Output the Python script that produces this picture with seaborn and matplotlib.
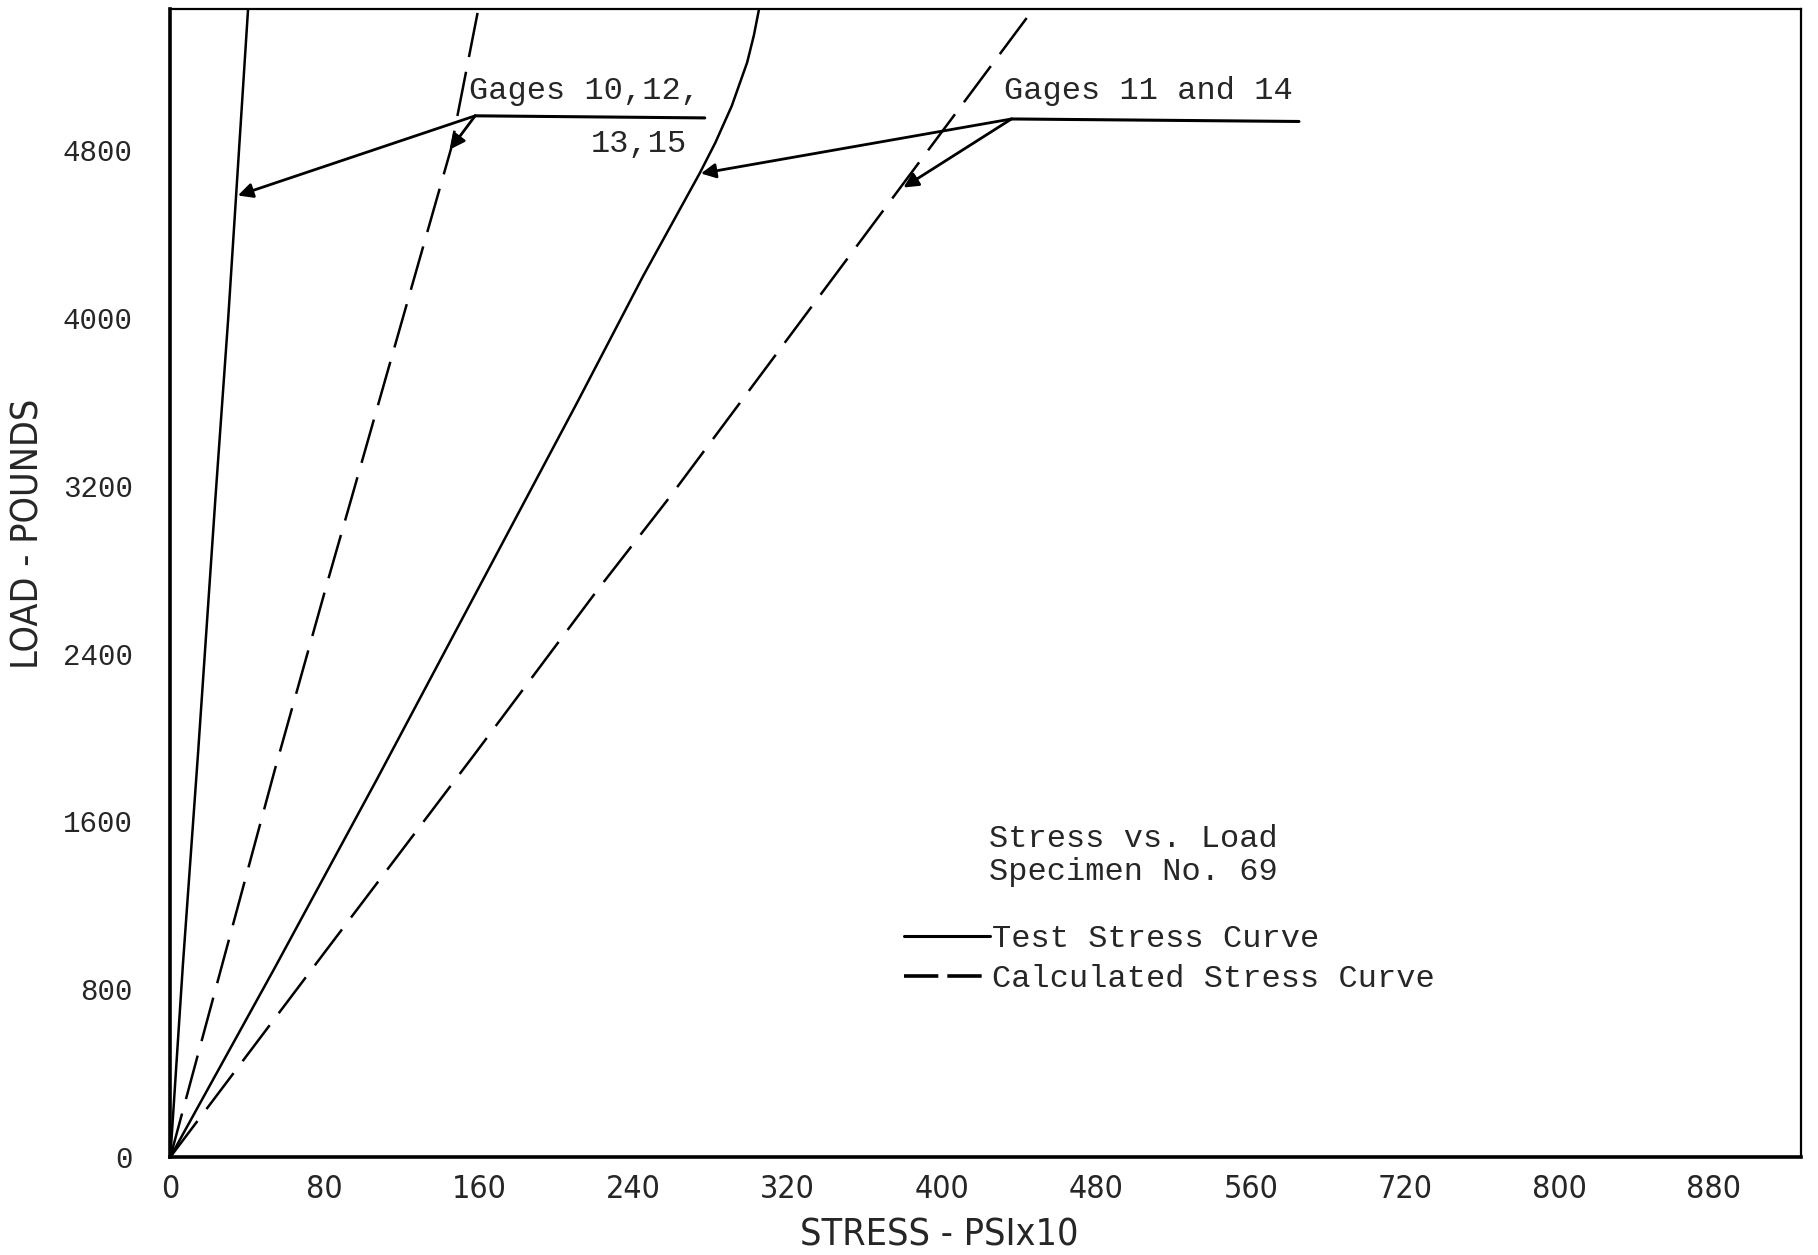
import numpy as np
import pandas as pd
import matplotlib
matplotlib.use("Agg")
import matplotlib.pyplot as plt
import seaborn as sns
from matplotlib.lines import Line2D

# curves (stress in PSI x10, load in pounds)
test_a_stress = [0, 6.5, 14.4, 23.4, 30, 34, 40.4]
test_a_load = [0, 916, 1931, 3147, 4000, 4573, 5491]
calc_a_stress = [0, 24.4, 54.2, 82, 94, 145.4, 160]
calc_a_load = [0, 833, 1848, 2760, 3145, 4805, 5491]
test_b_stress = [0, 54, 107, 159, 211, 245, 274.5, 282.5, 291, 299, 302.5, 305.5]
test_b_load = [0, 900, 1800, 2700, 3600, 4200, 4693, 4837, 5012, 5220, 5350, 5491]
calc_b_stress = [0, 79.9, 157.5, 221, 258.7, 447]
calc_b_load = [0, 975, 1918, 2699, 3145, 5470]

x_tick_pos = [0, 80, 160, 240, 320, 400, 480, 560, 640, 720, 800]
x_tick_labels = ['0', '80', '160', '240', '320', '400', '480', '560', '720', '800', '880']
y_ticks = [0, 800, 1600, 2400, 3200, 4000, 4800]

rows = []
for name, kind, xs, ys in [('a_test', 'Test Stress Curve', test_a_stress, test_a_load),
                           ('a_calc', 'Calculated Stress Curve', calc_a_stress, calc_a_load),
                           ('b_test', 'Test Stress Curve', test_b_stress, test_b_load),
                           ('b_calc', 'Calculated Stress Curve', calc_b_stress, calc_b_load)]:
    for x, y in zip(xs, ys):
        rows.append({'stress': x, 'load': y, 'curve': name, 'kind': kind})
df = pd.DataFrame(rows)

sns.set_style('white')
plt.rcParams['font.family'] = ['Liberation Mono', 'DejaVu Sans Mono']
narrow = dict(family='DejaVu Sans', fontstretch='condensed')

fig = plt.figure(figsize=(18.18, 12.55), dpi=100)
ax = fig.add_axes([0.0937, 0.0781, 0.8967, 0.9145])

dash_map = {'Test Stress Curve': '', 'Calculated Stress Curve': (18, 6)}
sns.lineplot(data=df, x='stress', y='load', units='curve', style='kind', estimator=None,
             sort=False, color='black', dashes=dash_map, lw=1.8, legend=False, ax=ax)

ax.set_xlim(0, 845)
ax.set_ylim(0, 5473)
ax.set_xticks(x_tick_pos)
ax.set_xticklabels(x_tick_labels, fontsize=23, **narrow)
ax.set_yticks(y_ticks)
ax.tick_params(direction='inout', length=18, width=2, color='black')
ax.tick_params(axis='y', labelsize=21, pad=18)
ax.tick_params(axis='x', pad=3)
for side in ['left', 'bottom']:
    ax.spines[side].set_linewidth(2.6)
for side in ['top', 'right']:
    ax.spines[side].set_linewidth(1.6)
for s in ax.spines.values():
    s.set_color('black')

ax.set_xlabel('STRESS - PSIx10', fontsize=27, va='center', **narrow)
ax.xaxis.set_label_coords(0.4716, -0.068)
ax.set_ylabel('LOAD - POUNDS', fontsize=27, va='center', **narrow)
ax.yaxis.set_label_coords(-0.0868, 0.543)

# gage callouts
arrow = dict(arrowstyle='-|>', lw=2, color='black', mutation_scale=22, shrinkA=0, shrinkB=0)
ax.plot([158, 277], [4965, 4955], color='black', lw=2.2)
ax.annotate('', xy=(35, 4585), xytext=(158, 4965), arrowprops=arrow)
ax.annotate('', xy=(145, 4805), xytext=(158, 4965), arrowprops=arrow)
ax.text(155, 5010, 'Gages 10,12,', fontsize=23, ha='left', va='bottom')
ax.text(218, 4830, '13,15', fontsize=23, ha='left', va='center')

ax.plot([436, 585], [4950, 4938], color='black', lw=2.2)
ax.annotate('', xy=(275, 4690), xytext=(436, 4950), arrowprops=arrow)
ax.annotate('', xy=(380, 4623), xytext=(436, 4950), arrowprops=arrow)
ax.text(432, 5010, 'Gages 11 and 14', fontsize=23, ha='left', va='bottom')

ax.text(424.5, 1517, 'Stress vs. Load', fontsize=23, ha='left', va='center')
ax.text(424.5, 1357, 'Specimen No. 69', fontsize=23, ha='left', va='center')

handles = [Line2D([], [], color='black', lw=2.2, label='Test Stress Curve'),
           Line2D([], [], color='black', lw=2.6, dashes=(9.5, 2.5), label='Calculated Stress Curve')]
ax.legend(handles=handles, loc='upper left', bbox_to_anchor=(0.45, 0.203), frameon=False,
          fontsize=23, handlelength=2.7, handletextpad=0.05, borderpad=0, borderaxespad=0,
          labelspacing=0.32)

fig.savefig('out.png', dpi=100)
